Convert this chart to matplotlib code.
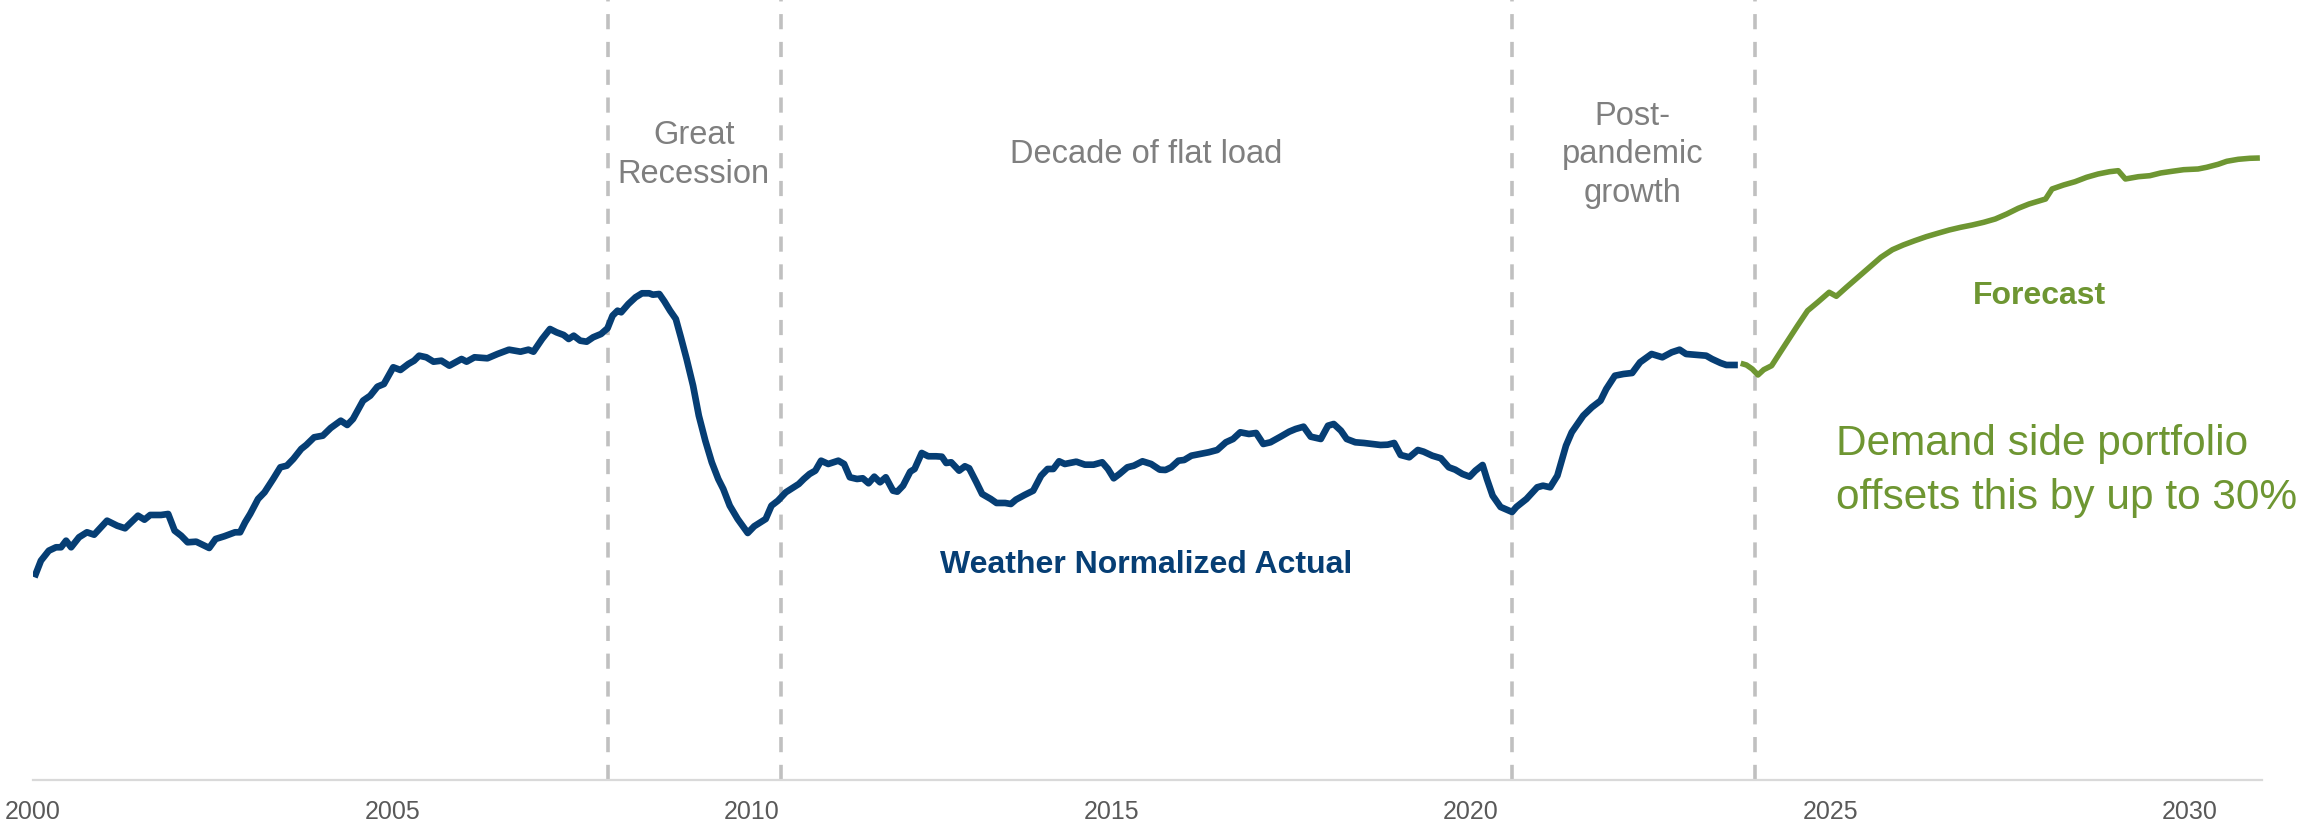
import numpy as np
import matplotlib
matplotlib.use("Agg")
import matplotlib.pyplot as plt

# weather normalized actual load (arbitrary units)
actual_year = [2000.02, 2000.11, 2000.22, 2000.32, 2000.39, 2000.46, 2000.53, 2000.64, 2000.75, 2000.85,
	2001.03, 2001.17, 2001.28, 2001.46, 2001.55, 2001.63, 2001.78, 2001.88, 2001.97, 2002.06,
	2002.15, 2002.27, 2002.45, 2002.54, 2002.66, 2002.81, 2002.88, 2002.95, 2003.02, 2003.13,
	2003.22, 2003.34, 2003.44, 2003.53, 2003.62, 2003.73, 2003.80, 2003.91, 2004.03, 2004.14,
	2004.28, 2004.37, 2004.45, 2004.59, 2004.69, 2004.79, 2004.88, 2005.01, 2005.11, 2005.22,
	2005.30, 2005.37, 2005.47, 2005.57, 2005.68, 2005.79, 2005.89, 2005.96, 2006.03, 2006.14,
	2006.32, 2006.46, 2006.62, 2006.78, 2006.89, 2006.96, 2007.08, 2007.19, 2007.28, 2007.38,
	2007.45, 2007.52, 2007.61, 2007.70, 2007.79, 2007.90, 2007.99, 2008.06, 2008.13, 2008.18,
	2008.28, 2008.38, 2008.47, 2008.57, 2008.62, 2008.71, 2008.78, 2008.86, 2008.94, 2009.01,
	2009.09, 2009.18, 2009.26, 2009.35, 2009.44, 2009.53, 2009.60, 2009.69, 2009.80, 2009.94,
	2010.03, 2010.19, 2010.27, 2010.36, 2010.47, 2010.65, 2010.72, 2010.80, 2010.88, 2010.96,
	2011.06, 2011.20, 2011.28, 2011.36, 2011.46, 2011.54, 2011.62, 2011.70, 2011.78, 2011.86,
	2011.96, 2012.02, 2012.10, 2012.20, 2012.26, 2012.36, 2012.45, 2012.56, 2012.64, 2012.70,
	2012.77, 2012.88, 2012.96, 2013.02, 2013.12, 2013.20, 2013.32, 2013.40, 2013.52, 2013.60,
	2013.67, 2013.79, 2013.91, 2014.02, 2014.11, 2014.19, 2014.27, 2014.35, 2014.51, 2014.63,
	2014.75, 2014.87, 2014.95, 2015.03, 2015.11, 2015.22, 2015.31, 2015.43, 2015.55, 2015.67,
	2015.75, 2015.83, 2015.93, 2016.01, 2016.11, 2016.23, 2016.35, 2016.47, 2016.59, 2016.69,
	2016.79, 2016.91, 2017.01, 2017.11, 2017.21, 2017.35, 2017.47, 2017.56, 2017.67, 2017.77,
	2017.91, 2018.01, 2018.09, 2018.19, 2018.27, 2018.39, 2018.51, 2018.62, 2018.74, 2018.84,
	2018.93, 2019.02, 2019.14, 2019.26, 2019.34, 2019.46, 2019.58, 2019.69, 2019.78, 2019.88,
	2019.98, 2020.06, 2020.16, 2020.22, 2020.30, 2020.41, 2020.57, 2020.63, 2020.77, 2020.92,
	2021.00, 2021.10, 2021.20, 2021.32, 2021.40, 2021.56, 2021.68, 2021.80, 2021.88, 2022.00,
	2022.12, 2022.24, 2022.35, 2022.51, 2022.66, 2022.79, 2022.90, 2022.99, 2023.15, 2023.27,
	2023.35, 2023.47, 2023.55, 2023.71]
actual_load = [20.27, 21.93, 22.93, 23.27, 23.27, 23.93, 23.27, 24.27, 24.77, 24.53,
	25.93, 25.43, 25.17, 26.43, 26.03, 26.50, 26.50, 26.60, 24.93, 24.43,
	23.77, 23.83, 23.20, 24.10, 24.37, 24.77, 24.77, 25.77, 26.60, 28.10,
	28.77, 30.10, 31.27, 31.43, 32.10, 33.10, 33.50, 34.27, 34.43, 35.20,
	35.93, 35.50, 36.10, 37.93, 38.43, 39.33, 39.60, 41.27, 41.00, 41.60,
	41.93, 42.43, 42.27, 41.83, 41.93, 41.43, 41.83, 42.10, 41.83, 42.27,
	42.17, 42.60, 43.03, 42.83, 43.03, 42.83, 44.10, 45.10, 44.77, 44.50,
	44.10, 44.43, 43.93, 43.83, 44.27, 44.60, 45.17, 46.43, 46.93, 46.77,
	47.60, 48.27, 48.67, 48.67, 48.53, 48.60, 47.87, 46.93, 46.10, 44.27,
	42.10, 39.43, 36.43, 33.93, 31.77, 30.10, 29.10, 27.43, 26.10, 24.70,
	25.37, 26.10, 27.43, 27.93, 28.77, 29.60, 30.10, 30.60, 30.93, 31.93,
	31.60, 31.93, 31.60, 30.27, 30.10, 30.17, 29.67, 30.33, 29.77, 30.27,
	28.93, 28.83, 29.43, 30.83, 31.10, 32.70, 32.37, 32.37, 32.33, 31.70,
	31.77, 30.93, 31.37, 31.17, 29.77, 28.60, 28.10, 27.70, 27.70, 27.60,
	28.03, 28.50, 28.93, 30.43, 31.10, 31.10, 31.87, 31.60, 31.83, 31.53,
	31.53, 31.77, 31.10, 30.17, 30.60, 31.27, 31.43, 31.87, 31.60, 31.03,
	31.00, 31.27, 31.93, 32.00, 32.43, 32.60, 32.77, 33.00, 33.77, 34.10,
	34.77, 34.60, 34.70, 33.60, 33.77, 34.33, 34.83, 35.10, 35.33, 34.33,
	34.10, 35.43, 35.60, 34.93, 34.10, 33.77, 33.70, 33.60, 33.50, 33.53,
	33.70, 32.50, 32.27, 33.00, 32.83, 32.43, 32.17, 31.27, 31.03, 30.60,
	30.33, 30.93, 31.50, 30.10, 28.43, 27.30, 26.80, 27.30, 28.10, 29.27,
	29.43, 29.27, 30.43, 33.43, 34.77, 36.43, 37.27, 37.93, 39.10, 40.43,
	40.60, 40.70, 41.77, 42.60, 42.27, 42.77, 43.03, 42.60, 42.50, 42.43,
	42.10, 41.70, 41.50, 41.50]

# forecast
forecast_year = [2023.75, 2023.83, 2023.91, 2023.99, 2024.07, 2024.18, 2024.30, 2024.42, 2024.54, 2024.68,
	2024.82, 2024.98, 2025.08, 2025.22, 2025.38, 2025.54, 2025.70, 2025.86, 2026.01, 2026.17,
	2026.33, 2026.49, 2026.65, 2026.81, 2026.97, 2027.13, 2027.29, 2027.45, 2027.61, 2027.76,
	2027.99, 2028.08, 2028.24, 2028.40, 2028.56, 2028.72, 2028.88, 2029.00, 2029.10, 2029.28,
	2029.44, 2029.59, 2029.75, 2029.91, 2030.11, 2030.23, 2030.39, 2030.51, 2030.67, 2030.83,
	2030.97]
forecast_load = [41.67, 41.50, 41.10, 40.50, 41.03, 41.43, 42.77, 44.10, 45.43, 46.93,
	47.77, 48.77, 48.37, 49.27, 50.27, 51.27, 52.27, 53.03, 53.50, 53.93,
	54.33, 54.67, 55.00, 55.27, 55.50, 55.77, 56.10, 56.60, 57.17, 57.60,
	58.10, 59.10, 59.50, 59.83, 60.27, 60.60, 60.83, 60.93, 60.10, 60.33,
	60.43, 60.70, 60.87, 61.03, 61.10, 61.27, 61.57, 61.87, 62.07, 62.17,
	62.20]

period_breaks = [2008.0, 2010.4, 2020.57, 2023.95]
period_labels = ["Great\nRecession", "Decade of flat load", "Post-\npandemic\ngrowth"]
period_centers = [2009.19, 2015.48, 2022.25]
tick_years = [2000, 2005, 2010, 2015, 2020, 2025, 2030]

blue = "#063e74"
green = "#6e9632"
grey_text = "#7f7f7f"

plt.rcParams['font.family'] = ['Liberation Sans', 'DejaVu Sans']

fig = plt.figure(figsize = (22.97, 8.28), dpi = 100)
ax = fig.add_axes([0.01437, 0.0568, 0.9704, 0.9432])

# period dividers
for x in period_breaks:
	ax.axvline(x, color = "#c0c0c0", lw = 2.6, linestyle = (0, (4.2, 3.5)), zorder = 1)

# the two series
ax.plot(actual_year, actual_load, color = blue, lw = 4.8, solid_joinstyle = "round", solid_capstyle = "butt", zorder = 3)
ax.plot(forecast_year, forecast_load, color = green, lw = 4.0, solid_joinstyle = "round", solid_capstyle = "butt", zorder = 3)

# period labels
for label, cx in zip(period_labels, period_centers):
	ax.text(cx, 62.6, label, ha = "center", va = "center", fontsize = 23.5, color = grey_text, linespacing = 1.3)

ax.text(2027.9, 48.5, "Forecast", ha = "center", va = "center", fontsize = 23, color = green, fontweight = "bold")
ax.text(2015.48, 21.6, "Weather Normalized Actual", ha = "center", va = "center", fontsize = 23, color = blue, fontweight = "bold")
ax.text(2025.08, 31.0, "Demand side portfolio\noffsets this by up to 30%", ha = "left", va = "center",
	fontsize = 30.5, color = green, linespacing = 1.45, clip_on = False)

# axis styling
ax.set_xlim(2000, 2031)
ax.set_ylim(0, 78.1)
ax.set_xticks(tick_years)
ax.set_xticklabels([str(t) for t in tick_years])
ax.tick_params(axis = "x", length = 0, labelsize = 18, labelcolor = "#595959", pad = 14)
ax.set_yticks([])
for side in ["top", "left", "right"]:
	ax.spines[side].set_visible(False)
ax.spines["bottom"].set_color("#d9d9d9")
ax.spines["bottom"].set_linewidth(1.6)
ax.patch.set_visible(False)

fig.savefig("out.png", dpi = 100)
